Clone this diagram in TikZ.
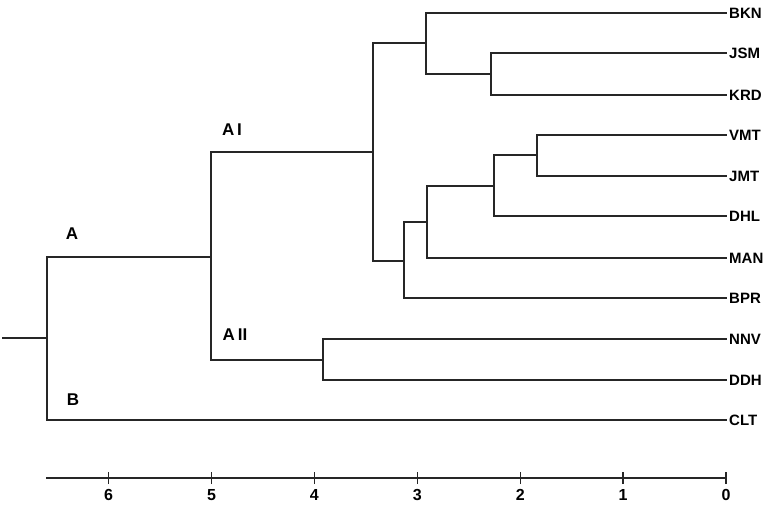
\documentclass[tikz,border=0pt]{standalone}
\usepackage{fontspec}
\setmainfont{Liberation Sans}
\begin{document}
\begin{tikzpicture}[x=1pt,y=-1pt,
  branch/.style={line width=1.3pt,line cap=rect,draw=black!85},
  leaf/.style={anchor=west,inner xsep=3pt,inner ysep=0pt,text height=11pt,text depth=0pt,font=\bfseries\fontsize{15}{15}\selectfont},
  grp/.style={inner sep=0pt,font=\bfseries\fontsize{17}{17}\selectfont},
  num/.style={inner sep=0pt,font=\bfseries\fontsize{16}{16}\selectfont}]
\useasboundingbox (0,0) rectangle (774,505);
% leaves
\node[leaf] (BKN) at (726,13) {BKN};
\node[leaf] (JSM) at (726,53) {JSM};
\node[leaf] (KRD) at (726,95) {KRD};
\node[leaf] (VMT) at (726,135) {VMT};
\node[leaf] (JMT) at (726,176) {JMT};
\node[leaf] (DHL) at (726,216) {DHL};
\node[leaf] (MAN) at (726,258) {MAN};
\node[leaf] (BPR) at (726,298) {BPR};
\node[leaf] (NNV) at (726,339) {NNV};
\node[leaf] (DDH) at (726,380) {DDH};
\node[leaf] (CLT) at (726,420) {CLT};
% internal nodes
\coordinate (n1) at (491,74);
\coordinate (n2) at (426,43);
\coordinate (n3) at (537,155);
\coordinate (n4) at (494,186);
\coordinate (n5) at (427,222);
\coordinate (n6) at (404,261);
\coordinate (n7) at (373,152);
\coordinate (n8) at (323,360);
\coordinate (n9) at (211,257);
\coordinate (n10) at (47,338);
\coordinate (stub) at (3,338);
% branches
\draw[branch] (JSM.west) -| (n1) |- (KRD.west);
\draw[branch] (BKN.west) -| (n2) |- (n1);
\draw[branch] (VMT.west) -| (n3) |- (JMT.west);
\draw[branch] (n3) -| (n4) |- (DHL.west);
\draw[branch] (n4) -| (n5) |- (MAN.west);
\draw[branch] (n5) -| (n6) |- (BPR.west);
\draw[branch] (n2) -| (n7) |- (n6);
\draw[branch] (NNV.west) -| (n8) |- (DDH.west);
\draw[branch] (n7) -| (n9) |- (n8);
\draw[branch] (n9) -| (n10) |- (CLT.west);
\draw[branch] (stub) -- (n10);
% group labels
\node[grp] (lA) at (72,234) {A};
\node[grp] (lAI) at (232,130) {A\,I};
\node[grp] (lAII) at (235,335) {A\,II};
\node[grp] (lB) at (73,400) {B};
% axis
\coordinate (ax0) at (47,478);
\coordinate (ax1) at (726,478);
\draw[branch] (ax0) -- (ax1);
\foreach \d in {0,...,6}{
  \coordinate (t\d) at ({726-102.9*\d},478);
  \draw[branch,line cap=butt] ([yshift=-6pt]t\d) -- ([yshift=6pt]t\d);
  \node[num] (lab\d) at ({726-102.9*\d},495) {\d};
}
\end{tikzpicture}
\end{document}
